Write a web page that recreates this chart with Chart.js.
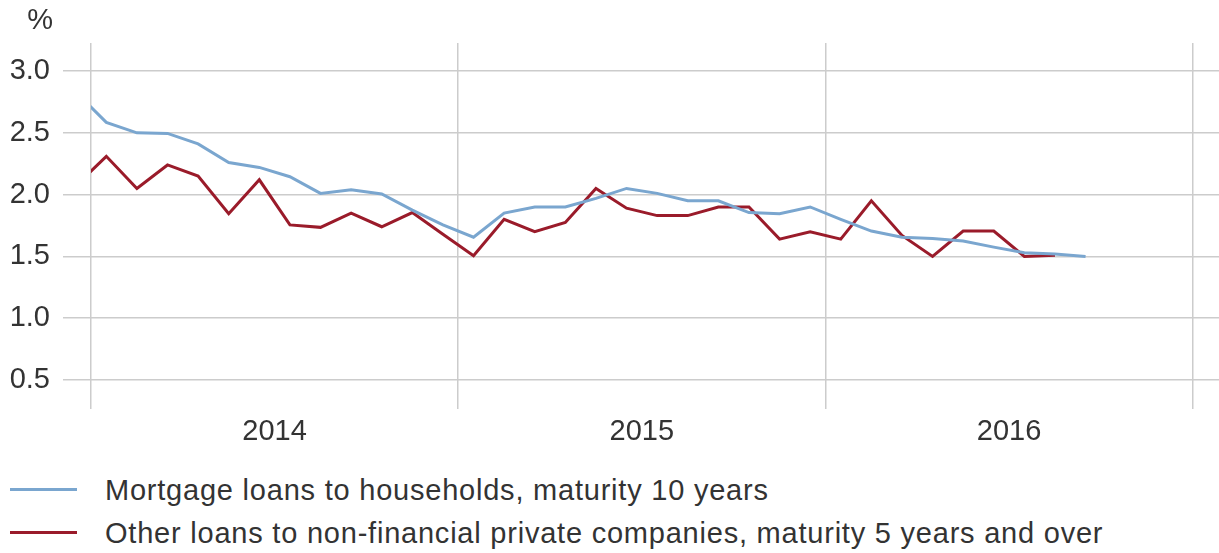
<!DOCTYPE html>
<html>
<head>
<meta charset="utf-8">
<script src="https://cdn.jsdelivr.net/npm/chart.js@4/dist/chart.umd.min.js"></script>
<style>
  html, body { margin: 0; padding: 0; background: #fff; }
  #wrap { position: relative; width: 1219px; height: 553px; font-family: "Liberation Sans", Arial, sans-serif; color: #333; }
  #chart-box { position: absolute; left: 0; top: 0; width: 1219px; height: 460px; }
  .legend-row { position: absolute; left: 0; height: 40px; font-size: 29px; line-height: 40px; white-space: nowrap; letter-spacing: 0.78px; }
  .legend-row span.swatch { position: absolute; left: 10px; top: 18px; width: 67px; height: 3px; }
  .legend-row span.txt { position: absolute; left: 105px; top: 0; }
</style>
</head>
<body>
<div id="wrap">
  <div id="chart-box"><canvas id="juros-chart"></canvas></div>
  <div class="legend-row" style="top:470px"><span class="swatch" id="sw0"></span><span class="txt" id="lg0"></span></div>
  <div class="legend-row" style="top:513px"><span class="swatch" id="sw1"></span><span class="txt" id="lg1"></span></div>
</div>
<script>
// Meses: dez/2013 até set/2016 (ponto no meio de cada mês)
const monthLabels = [
    '2013-12',
    '2014-01', '2014-02', '2014-03', '2014-04', '2014-05', '2014-06',
    '2014-07', '2014-08', '2014-09', '2014-10', '2014-11', '2014-12',
    '2015-01', '2015-02', '2015-03', '2015-04', '2015-05', '2015-06',
    '2015-07', '2015-08', '2015-09', '2015-10', '2015-11', '2015-12',
    '2016-01', '2016-02', '2016-03', '2016-04', '2016-05', '2016-06',
    '2016-07', '2016-08', '2016-09'
];

const yearLabels = ['2014', '2015', '2016'];
const yTicks = [0.5, 1.0, 1.5, 2.0, 2.5, 3.0];

const seriesNames = [
    'Mortgage loans to households, maturity 10 years',
    'Other loans to non-financial private companies, maturity 5 years and over'
];

const mortgage = [
    2.83,
    2.585, 2.50, 2.495, 2.41, 2.26, 2.22, 2.145, 2.01, 2.04, 2.005, 1.875, 1.755,
    1.655, 1.85, 1.90, 1.90, 1.97, 2.05, 2.01, 1.95, 1.95, 1.855, 1.845, 1.90,
    1.80, 1.705, 1.655, 1.645, 1.625, 1.575, 1.53, 1.52, 1.50
];

const otherLoans = [
    2.07,
    2.31, 2.05, 2.24, 2.15, 1.845, 2.12, 1.755, 1.735, 1.85, 1.74, 1.855, 1.68,
    1.505, 1.80, 1.70, 1.775, 2.05, 1.89, 1.83, 1.83, 1.90, 1.90, 1.64, 1.70,
    1.64, 1.95, 1.67, 1.50, 1.705, 1.705, 1.50, 1.51
];

const colors = ['#7aa6cf', '#9a1b2a'];
const gridColor = '#cccccc';
const textColor = '#333333';
const fontFamily = '"Liberation Sans", Arial, sans-serif';

function toPoints(values) {
    // x em meses a partir de jan/2014 (0 = início de 2014)
    return values.map((v, i) => ({ x: i - 0.5, y: v }));
}

const percentLabel = {
    id: 'percentLabel',
    afterDraw(chart) {
        const ctx = chart.ctx;
        ctx.save();
        ctx.font = '29px ' + fontFamily;
        ctx.fillStyle = textColor;
        ctx.textAlign = 'right';
        ctx.textBaseline = 'middle';
        ctx.fillText('%', 53, 21);
        ctx.restore();
    }
};

document.addEventListener('DOMContentLoaded', function() {
    // Legenda em HTML
    seriesNames.forEach((name, i) => {
        document.getElementById('lg' + i).textContent = name;
        document.getElementById('sw' + i).style.background = colors[i];
    });

    new Chart(document.getElementById('juros-chart'), {
        type: 'line',
        data: {
            datasets: [
                {
                    label: seriesNames[0],
                    data: toPoints(mortgage),
                    borderColor: colors[0],
                    borderWidth: 3,
                    pointRadius: 0,
                    tension: 0,
                    fill: false
                },
                {
                    label: seriesNames[1],
                    data: toPoints(otherLoans),
                    borderColor: colors[1],
                    borderWidth: 3,
                    pointRadius: 0,
                    tension: 0,
                    fill: false
                }
            ]
        },
        options: {
            responsive: true,
            maintainAspectRatio: false,
            animation: false,
            layout: { padding: { top: 43, right: 0, left: 0, bottom: 0 } },
            plugins: {
                legend: { display: false },
                tooltip: { enabled: false }
            },
            scales: {
                x: {
                    type: 'linear',
                    min: 0,
                    max: 36.86,
                    afterBuildTicks: function(scale) {
                        scale.ticks = [0, 6, 12, 18, 24, 30, 36].map(v => ({ value: v }));
                    },
                    afterFit: function(scale) {
                        scale.height = 51;
                    },
                    border: { display: false },
                    grid: {
                        drawTicks: false,
                        lineWidth: 1.5,
                        color: ctx => (ctx.tick && ctx.tick.value % 12 === 0) ? gridColor : 'rgba(0,0,0,0)'
                    },
                    ticks: {
                        autoSkip: false,
                        maxRotation: 0,
                        padding: 6,
                        color: textColor,
                        font: { family: fontFamily, size: 29 },
                        callback: function(value) {
                            return value % 12 === 6 ? yearLabels[(value - 6) / 12] : '';
                        }
                    }
                },
                y: {
                    min: 0.265,
                    max: 3.227,
                    afterBuildTicks: function(scale) {
                        scale.ticks = yTicks.map(v => ({ value: v }));
                    },
                    afterFit: function(scale) {
                        scale.width = 91;
                    },
                    border: { display: false },
                    grid: {
                        drawTicks: true,
                        tickLength: 28,
                        lineWidth: 1.5,
                        color: gridColor
                    },
                    ticks: {
                        padding: 13,
                        color: textColor,
                        font: { family: fontFamily, size: 29 },
                        callback: function(value) {
                            return value.toFixed(1);
                        }
                    }
                }
            }
        },
        plugins: [percentLabel]
    });
});
</script>
</body>
</html>
